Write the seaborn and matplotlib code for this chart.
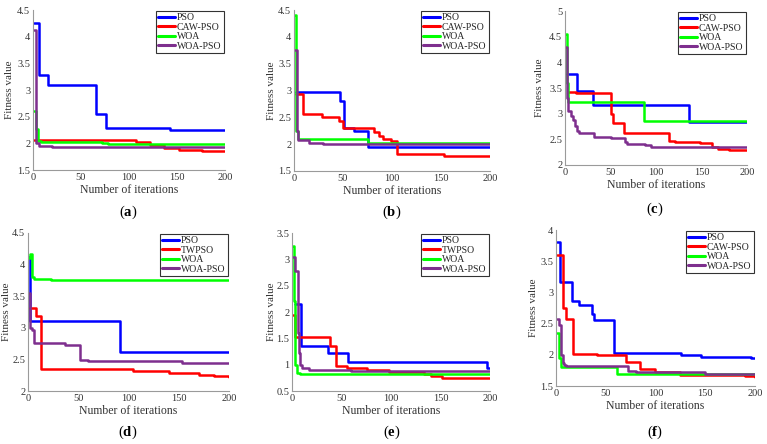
import numpy as np
import pandas as pd
import seaborn as sns
import matplotlib.pyplot as plt
from matplotlib.ticker import FuncFormatter

# step breakpoints (iteration, fitness)
A_PSO = [(1, 4.25), (6, 3.28), (16, 3.1), (66, 2.55), (76, 2.28), (143, 2.25), (200, 2.25)]
A_CAW = [(1, 2.07), (107, 2.03), (122, 1.97), (136, 1.92), (152, 1.88), (176, 1.86), (200, 1.86)]
A_WOA = [(1, 2.6), (3, 2.27), (5, 2.05), (8, 2.02), (72, 2.0), (78, 1.98), (200, 1.98)]
A_WP = [(1, 4.12), (3, 2.0), (6, 1.95), (20, 1.94), (200, 1.94)]

B_PSO = [(2, 2.97), (47, 2.8), (51, 2.3), (61, 2.25), (76, 1.95), (200, 1.95)]
B_CAW = [(2, 2.93), (9, 2.57), (29, 2.5), (46, 2.43), (50, 2.3), (82, 2.22), (87, 2.15), (91, 2.1),
         (99, 2.05), (105, 1.82), (153, 1.78), (200, 1.78)]
B_WOA = [(1, 4.4), (2, 2.25), (4, 2.1), (76, 2.02), (200, 2.02)]
B_WP = [(1, 3.75), (3, 2.25), (4, 2.07), (15, 2.03), (30, 2.0), (200, 2.0)]

C_PSO = [(2, 3.77), (13, 3.45), (31, 3.17), (136, 2.83), (200, 2.83)]
C_CAW = [(3, 3.43), (12, 3.4), (51, 3.0), (53, 2.82), (65, 2.62), (114, 2.47), (121, 2.44),
         (148, 2.42), (162, 2.36), (168, 2.32), (180, 2.3), (200, 2.3)]
C_WOA = [(1, 4.55), (2, 3.6), (3, 3.23), (87, 2.85), (200, 2.85)]
C_WP = [(1, 4.3), (2, 3.3), (3, 3.05), (7, 2.96), (9, 2.88), (11, 2.76), (13, 2.66), (15, 2.62),
        (32, 2.54), (50, 2.52), (66, 2.45), (68, 2.4), (88, 2.38), (95, 2.36), (200, 2.36)]

D_PSO = [(1, 4.12), (2, 3.1), (92, 2.62), (200, 2.62)]
D_TW = [(2, 3.31), (8, 3.19), (13, 2.35), (104, 2.31), (140, 2.29), (150, 2.28), (170, 2.25),
        (185, 2.23), (200, 2.22)]
D_WOA = [(1, 4.1), (2, 4.17), (4, 3.8), (6, 3.77), (23, 3.75), (200, 3.75)]
D_WP = [(1, 3.55), (2, 3.0), (4, 2.97), (6, 2.76), (37, 2.73), (52, 2.49), (60, 2.47), (153, 2.44), (200, 2.44)]

E_PSO = [(3, 2.15), (9, 1.35), (36, 1.22), (57, 1.05), (197, 0.93), (200, 0.93)]
E_TW = [(1, 1.95), (3, 1.52), (38, 1.35), (44, 0.98), (56, 0.93), (76, 0.9), (98, 0.87),
        (133, 0.82), (140, 0.78), (152, 0.74), (200, 0.74)]
E_WOA = [(1, 3.25), (2, 2.2), (3, 1.0), (5, 0.85), (8, 0.83), (200, 0.83)]
E_WP = [(1, 3.05), (3, 2.78), (6, 1.6), (7, 1.22), (8, 1.0), (10, 0.93), (17, 0.89), (60, 0.88), (200, 0.88)]

F_PSO = [(1, 3.8), (4, 3.17), (16, 2.87), (23, 2.8), (36, 2.65), (38, 2.55), (58, 2.03),
         (126, 2.0), (146, 1.97), (196, 1.95), (200, 1.95)]
F_CAW = [(1, 3.6), (7, 2.75), (10, 2.57), (17, 2.02), (41, 1.99), (70, 1.88), (84, 1.78),
         (99, 1.73), (125, 1.68), (190, 1.66), (200, 1.65)]
F_WOA = [(1, 2.35), (3, 1.95), (5, 1.8), (61, 1.7), (200, 1.7)]
F_WP = [(1, 2.58), (3, 2.48), (5, 2.0), (7, 1.87), (8, 1.83), (10, 1.82), (72, 1.74), (80, 1.72),
        (150, 1.7), (200, 1.7)]

NAMES_CAW = ['PSO', 'CAW-PSO', 'WOA', 'WOA-PSO']
NAMES_TW = ['PSO', 'TWPSO', 'WOA', 'WOA-PSO']
COLORS = ['#0000ff', '#ff0000', '#00ff00', '#7e2f8e']

# tag, series, legend names, y range, axes box (px: l, t, r, b), panel label (px), ylabel centre x (px)
panels = [
    ('a', [A_PSO, A_CAW, A_WOA, A_WP], NAMES_CAW, (1.5, 4.5), (33, 10, 225, 170), (128, 212), 10),
    ('b', [B_PSO, B_CAW, B_WOA, B_WP], NAMES_CAW, (1.5, 4.5), (294, 10, 490, 171), (392, 212), 271),
    ('c', [C_PSO, C_CAW, C_WOA, C_WP], NAMES_CAW, (2, 5), (565, 11, 747, 165), (655, 209), 539),
    ('d', [D_PSO, D_TW, D_WOA, D_WP], NAMES_TW, (2, 4.5), (28, 233, 229, 391), (128, 432), 7),
    ('e', [E_PSO, E_TW, E_WOA, E_WP], NAMES_TW, (0.5, 3.5), (292, 233, 490, 391), (392, 432), 271),
    ('f', [F_PSO, F_CAW, F_WOA, F_WP], NAMES_CAW, (1.5, 4), (556, 230, 755, 386), (655, 432), 534),
]

sns.set_theme(style='white')
plt.rcParams['font.family'] = ['Liberation Serif', 'DejaVu Serif']
plt.rcParams['mathtext.fontset'] = 'custom'
plt.rcParams['mathtext.rm'] = 'Liberation Serif'
plt.rcParams['mathtext.bf'] = 'Liberation Serif:bold'

W, H = 767, 444
fig = plt.figure(figsize=(W / 100, H / 100), dpi=100)
fig.patch.set_facecolor('white')
txt = '#333333'

for tag, series, names, ylim, box, lab, ylx in panels:
    l, t, r, b = box
    ax = fig.add_axes([l / W, 1 - b / H, (r - l) / W, (b - t) / H])
    rows = []
    for name, pts in zip(names, series):
        for x, y in pts:
            rows.append({'iter': x, 'fit': y, 'algo': name})
    df = pd.DataFrame(rows)
    sns.lineplot(data=df, x='iter', y='fit', hue='algo', hue_order=names,
                 palette=COLORS, estimator=None, drawstyle='steps-post',
                 linewidth=1.8, ax=ax)
    ax.set_xlim(0, 200)
    ax.set_ylim(*ylim)
    ax.set_xticks([0, 50, 100, 150, 200])
    ax.set_yticks(np.arange(ylim[0], ylim[1] + 0.01, 0.5))
    ax.yaxis.set_major_formatter(FuncFormatter(lambda v, p: '%g' % v))
    ax.tick_params(length=0, labelsize=7.5, labelcolor=txt, pad=2)
    ax.set_xlabel('Number of iterations', fontsize=8.5, color=txt, labelpad=1.5)
    ax.set_ylabel('Fitness value', fontsize=8, color=txt, va='center')
    ax.yaxis.set_label_coords((ylx - l) / (r - l), 0.5)
    for s in ['top', 'right']:
        ax.spines[s].set_visible(False)
    for s in ['left', 'bottom']:
        ax.spines[s].set_color('#9a9a9a')
        ax.spines[s].set_linewidth(0.8)
    h, lb = ax.get_legend_handles_labels()
    leg = ax.legend(h, lb, loc='upper right', fontsize=7, frameon=True, fancybox=False,
                    edgecolor='black', handlelength=1.8, handletextpad=0.2,
                    labelspacing=0.05, borderpad=0.2, borderaxespad=0.15)
    leg.get_frame().set_linewidth(0.8)
    for line in leg.get_lines():
        line.set_linewidth(2.2)
    fig.text(lab[0] / W, 1 - lab[1] / H, r'($\mathbf{%s}$)' % tag, fontsize=10.5,
             ha='center', va='center', color='black')

fig.savefig('out.png', dpi=100)
